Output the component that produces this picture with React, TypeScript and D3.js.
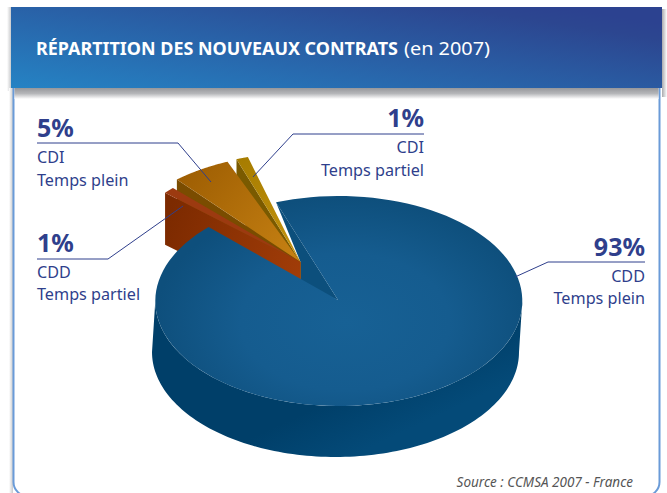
import React from "react";
import * as d3 from "d3";

const contracts = ["CDD Temps plein", "CDD Temps partiel", "CDI Temps plein", "CDI Temps partiel"];
const shares = [93, 1, 5, 1];
const shareLabels = ["93%", "1%", "5%", "1%"];
const lineOnes = ["CDD", "CDD", "CDI", "CDI"];
const lineTwos = ["Temps plein", "Temps partiel", "Temps plein", "Temps partiel"];

// the three small slices are fanned out a bit in the original
const fan = [0, -3, 1, 4];
const reach = [1, 0.99, 1.035, 1.04];
const faceFill = ["url(#blueFace)", "#9c3a10", "url(#orangeFace)", "url(#yellowFace)"];
const wallFill = ["#0c4f7c", "url(#redWall)", "#7a4c00", "#7a5a00"];

const W = 667, H = 493;
const rx = 183.5, ry = 105, depth = 50;
const apex: [number, number] = [338, 300];
const faceC: [number, number] = [338.8, 301];
const footC: [number, number] = [335.5, 352];
const smallC: [number, number] = [300.5, 262];
const blue = "#2f3f8c";

const rad = (d: number) => (d * Math.PI) / 180;
const pt = (c: [number, number], a: number, k = 1, dy = 0): [number, number] => [
  c[0] + rx * k * Math.sin(a),
  c[1] - ry * k * Math.cos(a) + dy,
];
const line = d3.line();
const rim = (c: [number, number], a0: number, a1: number, k = 1, dy = 0) =>
  d3.range(0, 1.0001, 1 / 120).map((t) => pt(c, a0 + (a1 - a0) * t, k, dy));

const pie = d3.pie<number>().sort(null).startAngle(rad(-20)).endAngle(rad(340));
const arcs = pie(shares);

// label layout : [leader path, text x, anchor, baselines]
const leaders: [number, number][][] = [
  [[515, 277], [548, 262], [645, 262]],
  [[37, 259], [108, 259], [183, 206]],
  [[37, 143], [178, 143], [211, 182]],
  [[424, 134], [293, 134], [253, 177]],
];
const labelX = [645, 37, 37, 424];
const labelAnchor = ["end", "start", "start", "end"];
const labelY = [[256, 282, 304], [252, 278, 300], [137, 163, 186], [127, 153, 176]];

export default function App() {
  const big = arcs[0];
  const bigStart = pt(faceC, big.startAngle);
  // front skirt of the big slice, visible from the left extreme round to the right one
  const skirt = [...rim(faceC, rad(-90), rad(-270)), ...rim(footC, rad(-270), rad(-90))];
  const small = [3, 2, 1].map((i) => {
    const d = arcs[i];
    const a0 = d.startAngle + rad(fan[i]);
    const a1 = d.endAngle + rad(fan[i]);
    const outer = pt(smallC, a0, reach[i]);
    return {
      i,
      wall: line([smallC, outer, [outer[0], outer[1] + depth + 2], [smallC[0], smallC[1] + depth]]),
      face: line([smallC, ...rim(smallC, a0, a1, reach[i])]),
    };
  });

  return (
    <svg width={W} height={H} style={{ position: "absolute", left: 0, top: 0 }} fontFamily="'Noto Sans', sans-serif">
      <defs>
        <linearGradient id="header" x1="0" y1="1" x2="1" y2="0.2">
          <stop offset="0" stopColor="#2583c4" />
          <stop offset="0.9" stopColor="#2c4690" />
          <stop offset="1" stopColor="#2c4290" />
        </linearGradient>
        <linearGradient id="headShadow" x1="0" y1="0" x2="0" y2="1">
          <stop offset="0" stopColor="#96979b" />
          <stop offset="0.5" stopColor="#b5b6b9" />
          <stop offset="1" stopColor="#ffffff" />
        </linearGradient>
        <linearGradient id="sideShadow" x1="0" y1="0" x2="1" y2="0">
          <stop offset="0" stopColor="#ffffff" />
          <stop offset="1" stopColor="#c9cacc" />
        </linearGradient>
        <linearGradient id="sideShadowR" x1="0" y1="0" x2="1" y2="0">
          <stop offset="0" stopColor="#a9aaad" />
          <stop offset="1" stopColor="#ffffff" />
        </linearGradient>
        <radialGradient id="blueFace" gradientUnits="userSpaceOnUse" cx={0} cy={0} r={1} gradientTransform="translate(345 322) scale(190 125)">
          <stop offset="0" stopColor="#176195" />
          <stop offset="0.55" stopColor="#155c8f" />
          <stop offset="1" stopColor="#0e4f7c" />
        </radialGradient>
        <linearGradient id="blueSide" gradientUnits="userSpaceOnUse" x1={300} y1={350} x2={350} y2={457}>
          <stop offset="0" stopColor="#003f69" />
          <stop offset="0.5" stopColor="#003f69" />
          <stop offset="1" stopColor="#044a78" />
        </linearGradient>
        <linearGradient id="orangeFace" gradientUnits="userSpaceOnUse" x1={190} y1={170} x2={290} y2={255}>
          <stop offset="0" stopColor="#9f5f03" />
          <stop offset="1" stopColor="#c47f12" />
        </linearGradient>
        <linearGradient id="yellowFace" gradientUnits="userSpaceOnUse" x1={240} y1={158} x2={295} y2={255}>
          <stop offset="0" stopColor="#a67c00" />
          <stop offset="1" stopColor="#c4930f" />
        </linearGradient>
        <linearGradient id="redWall" gradientUnits="userSpaceOnUse" x1={165} y1={220} x2={300} y2={270}>
          <stop offset="0" stopColor="#7c2a00" />
          <stop offset="1" stopColor="#a03c08" />
        </linearGradient>
      </defs>

      {/* frame */}
      <rect x={7} y={7} width={4} height={84} fill="url(#sideShadow)" />
      <rect x={9} y={88} width={4} height={405} fill="url(#sideShadow)" />
      <rect x={662} y={9} width={5} height={88} fill="url(#sideShadowR)" />
      <rect x={13.5} y={60} width={646} height={436} rx={14} fill="#fff" stroke="#6a9bd8" strokeWidth={2} />
      <rect x={14.5} y={88} width={644} height={11} fill="url(#headShadow)" />
      <rect x={11} y={7} width={651} height={81} fill="url(#header)" />
      <text x={36} y={55} fontSize={18} fill="#fff">
        <tspan fontWeight={700} textLength={362} lengthAdjust="spacingAndGlyphs">RÉPARTITION DES NOUVEAUX CONTRATS</tspan>
        <tspan x={404} textLength={86} lengthAdjust="spacingAndGlyphs">(en 2007)</tspan>
      </text>

      {/* big slice */}
      <path d={line(skirt) ?? ""} fill="url(#blueSide)" />
      <path d={line([bigStart, smallC, [smallC[0], smallC[1] + 22], apex]) ?? ""} fill={wallFill[0]} />

      {/* small slices, back to front */}
      {small.map((s) => (
        <g key={contracts[s.i]}>
          <path d={s.wall ?? ""} fill={wallFill[s.i]} />
          <path d={s.face ?? ""} fill={faceFill[s.i]} />
        </g>
      ))}

      <path d={line([apex, ...rim(faceC, big.startAngle, big.endAngle)]) ?? ""} fill={faceFill[0]} />

      {/* labels */}
      {contracts.map((c, i) => (
        <g key={c} fill={blue} textAnchor={labelAnchor[i]}>
          <path d={line(leaders[i]) ?? ""} fill="none" stroke={blue} strokeWidth={1} />
          <text x={labelX[i]} y={labelY[i][0]} fontSize={25} fontWeight={700}>{shareLabels[i]}</text>
          <text x={labelX[i]} y={labelY[i][1]} fontSize={16.2}>{lineOnes[i]}</text>
          <text x={labelX[i]} y={labelY[i][2]} fontSize={16.2}>{lineTwos[i]}</text>
        </g>
      ))}

      <text x={633} y={487} textAnchor="end" fontSize={13.5} fontStyle="italic" fill="#555">
        Source : CCMSA 2007 - France
      </text>
    </svg>
  );
}
